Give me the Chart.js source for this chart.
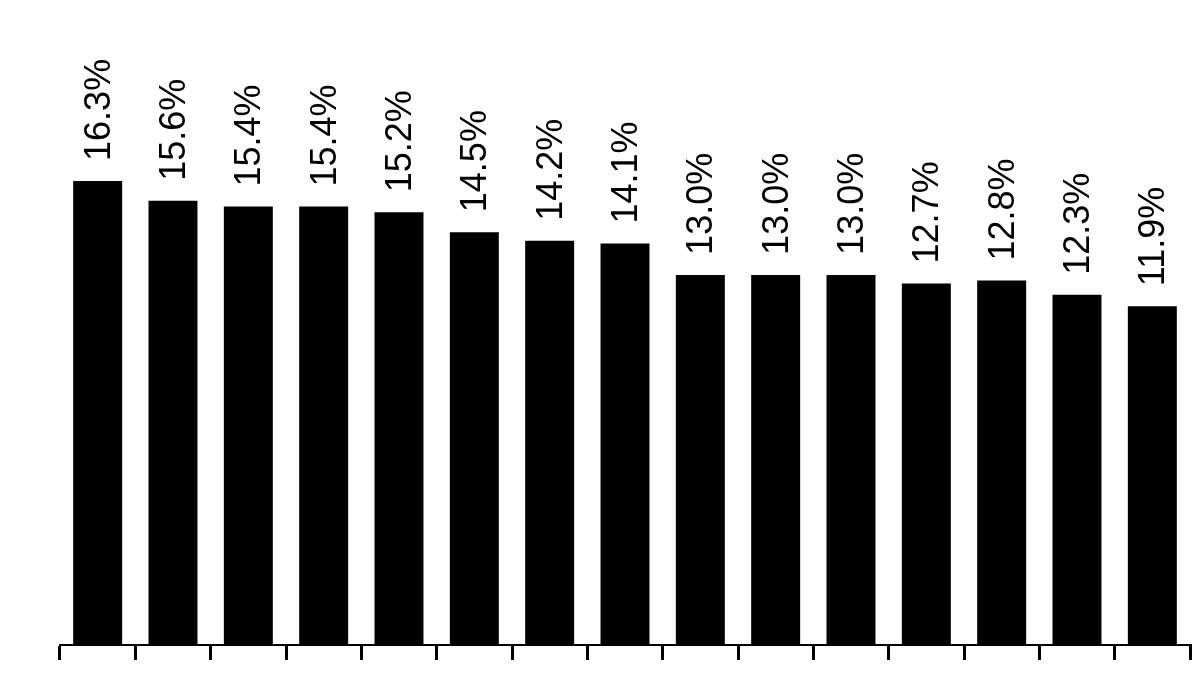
<!DOCTYPE html>
<html>
<head>
<meta charset="utf-8">
<script src="https://cdn.jsdelivr.net/npm/chart.js@4"></script>
<style>
  html, body { margin: 0; padding: 0; background: #fff; }
  #wrap { width: 1200px; height: 675px; }
</style>
</head>
<body>
<div id="wrap"><canvas id="chart" width="1200" height="675"></canvas></div>
<script>
// categories have no visible names in the picture
const categories = ['1', '2', '3', '4', '5', '6', '7', '8', '9', '10', '11', '12', '13', '14', '15']
const values = [16.3, 15.6, 15.4, 15.4, 15.2, 14.5, 14.2, 14.1, 13.0, 13.0, 13.0, 12.7, 12.8, 12.3, 11.9]
const yMin = 0
const yMax = 20

// value labels, turned on their side above each bar
const barLabels = {
  id: 'barLabels',
  afterDatasetsDraw(chart) {
    const ctx = chart.ctx
    const meta = chart.getDatasetMeta(0)
    ctx.save()
    ctx.fillStyle = '#000'
    ctx.font = '36px "Liberation Sans", Arial, sans-serif'
    ctx.textAlign = 'left'
    ctx.textBaseline = 'middle'
    meta.data.forEach((bar, i) => {
      ctx.save()
      ctx.translate(bar.x + 2, bar.y - 20)
      ctx.rotate(-Math.PI / 2)
      ctx.fillText(values[i].toFixed(1) + '%', 0, 0)
      ctx.restore()
    })
    ctx.restore()
  }
}

new Chart(document.getElementById('chart'), {
  type: 'bar',
  data: {
    labels: categories,
    datasets: [{
      data: values,
      backgroundColor: '#000',
      borderColor: '#000',
      borderWidth: 0,
      barPercentage: 0.65,
      categoryPercentage: 1
    }]
  },
  options: {
    responsive: false,
    animation: false,
    layout: { padding: { top: 75.6, left: 60, right: 10, bottom: 0 } },
    plugins: {
      legend: { display: false },
      tooltip: { enabled: false }
    },
    scales: {
      x: {
        offset: true,
        ticks: { display: false },
        grid: {
          offset: true,
          drawOnChartArea: false,
          color: '#000',
          lineWidth: 3,
          tickLength: 15
        },
        border: { color: '#000', width: 2 },
        afterFit(scale) { scale.height = 30 }
      },
      y: {
        display: false,
        min: yMin,
        max: yMax
      }
    }
  },
  plugins: [barLabels]
})
</script>
</body>
</html>
